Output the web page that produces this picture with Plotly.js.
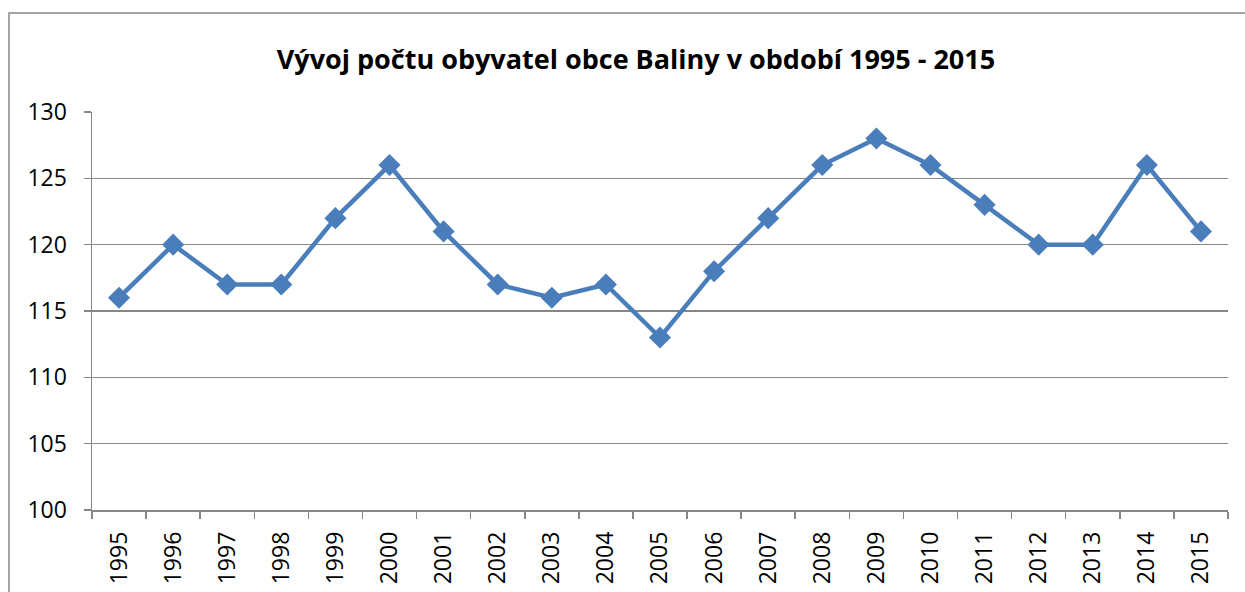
<!DOCTYPE html>
<html>
<head>
<meta charset="utf-8">
<script src="https://cdn.plot.ly/plotly-3.0.1.min.js"></script>
<style>
html,body{margin:0;padding:0;background:#fff;}
#chart{width:1245px;height:592px;}
</style>
</head>
<body>
<div id="chart"></div>
<script>
const years = ["1995","1996","1997","1998","1999","2000","2001","2002","2003","2004","2005","2006","2007","2008","2009","2010","2011","2012","2013","2014","2015"];
const population = [116,120,117,117,122,126,121,117,116,117,113,118,122,126,128,126,123,120,120,126,121];
const yTicks = [100,105,110,115,120,125,130];
const chartTitle = "Vývoj počtu obyvatel obce Baliny v období 1995 - 2015";

const gray = "#868686";
const font = "Open Sans, Liberation Sans, Arial, sans-serif";

const trace = {
  x: years,
  y: population,
  type: "scatter",
  mode: "lines+markers",
  line: {color: "#4A7EBB", width: 4.5},
  marker: {symbol: "diamond", size: 17, color: "#4A7EBB"},
  hoverinfo: "skip",
  cliponaxis: false
};

const layout = {
  width: 1245,
  height: 592,
  margin: {l: 92, r: 17, t: 112, b: 82},
  paper_bgcolor: "#fff",
  plot_bgcolor: "#fff",
  showlegend: false,
  font: {family: font, color: "#000", size: 23},
  title: {
    text: "<b>" + chartTitle + "</b>",
    font: {family: font, size: 27, color: "#000"},
    xref: "container", x: 636/1245, xanchor: "center",
    yref: "container", y: 1 - 60/592, yanchor: "middle"
  },
  xaxis: {
    type: "category",
    range: [-0.5, years.length - 0.5],
    tickson: "boundaries",
    ticks: "outside",
    ticklen: 7,
    tickcolor: gray,
    tickwidth: 1.5,
    showline: true,
    linecolor: gray,
    linewidth: 1.5,
    showgrid: false,
    tickangle: -90,
    tickfont: {family: font, size: 23, color: "#000"},
    ticklabelstandoff: 11,
    fixedrange: true
  },
  yaxis: {
    range: [100, 130],
    tickvals: yTicks,
    ticktext: yTicks.map(String),
    ticks: "outside",
    ticklen: 7,
    tickcolor: gray,
    tickwidth: 1.5,
    showline: true,
    linecolor: gray,
    linewidth: 1.5,
    showgrid: true,
    gridcolor: gray,
    gridwidth: 1.5,
    zeroline: false,
    tickfont: {family: font, size: 23, color: "#000"},
    ticklabelstandoff: 12,
    fixedrange: true
  },
  shapes: [{
    type: "rect",
    xref: "paper", yref: "paper",
    x0: (9 - 92) / 1136, x1: 1.2,
    y0: -0.5, y1: (510 - 13) / 398,
    line: {color: gray, width: 1.5},
    fillcolor: "rgba(0,0,0,0)",
    layer: "below"
  }]
};

Plotly.newPlot("chart", [trace], layout, {displayModeBar: false, staticPlot: true});
</script>
</body>
</html>
